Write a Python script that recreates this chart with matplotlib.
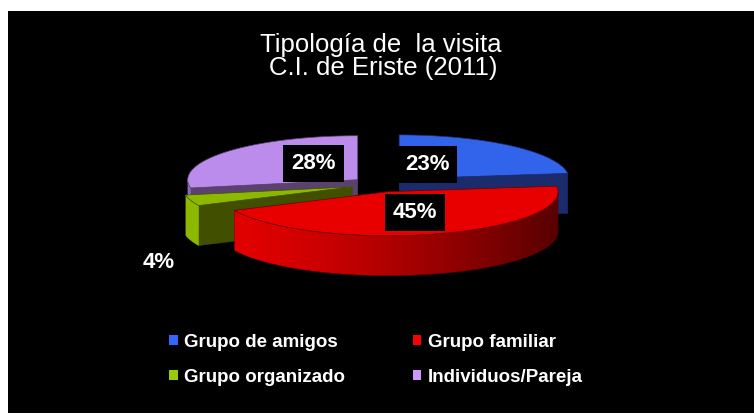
import numpy as np
import matplotlib
matplotlib.use("Agg")
import matplotlib.pyplot as plt
from matplotlib.patches import Polygon, Patch
from matplotlib.colors import to_rgb

# ---------------- data ----------------
categories = ["Grupo de amigos", "Grupo familiar", "Grupo organizado", "Individuos/Pareja"]
values = [23, 45, 4, 28]
pct_labels = ["23%", "45%", "4%", "28%"]
title_lines = ["Tipología de  la visita", "C.I. de Eriste (2011)"]

# ---------------- styles ----------------
top_colors = ["#3264EB", "#E80000", "#8CB900", "#BB8CEB"]
side_colors = ["#1B2C6C", "#6A0000", "#405000", "#5A416E"]
wall_light = ["#1B2C6C", "#E20000", "#8CB900", "#8E6AB8"]
wall_dark = ["#1B2C6C", "#580000", "#8CB900", "#8E6AB8"]
legend_colors = ["#3366FF", "#FF0000", "#99CC00", "#CC99FF"]
FONT = "Liberation Sans"

W, H = 754, 415
fig = plt.figure(figsize=(W / 100, H / 100), dpi=100, facecolor="white")
ax = fig.add_axes([8 / W, 2 / H, (W - 8) / W, (413 - 11) / H])
ax.set_facecolor("black")
ax.set_xlim(8, W)
ax.set_ylim(413, 11)
ax.set_xticks([])
ax.set_yticks([])
for s in ax.spines.values():
    s.set_visible(False)

# ---------------- 3D pie geometry ----------------
CX, CY, RX, RY, DEPTH, EXPLODE = 380, 184.5, 170, 44, 40, 0.17
total = float(sum(values))
bounds = np.concatenate([[0], np.cumsum(values)]) / total * 360.0


def arc(cx, cy, a0, a1):
    n = max(2, int(abs(a1 - a0) * 2) + 2)
    t = np.radians(np.linspace(a0, a1, n))
    return np.column_stack([cx + RX * np.sin(t), cy - RY * np.cos(t)])


slices = []
for i in range(len(values)):
    a0, a1 = bounds[i], bounds[i + 1]
    m = np.radians((a0 + a1) / 2)
    cx = CX + EXPLODE * RX * np.sin(m)
    cy = CY - EXPLODE * RY * np.cos(m)
    slices.append((i, a0, a1, cx, cy, -np.cos(m)))

zo = 2.0
for i, a0, a1, cx, cy, depth_key in sorted(slices, key=lambda s: s[5]):
    # radial cut faces
    for a, visible in ((a0, np.sin(np.radians(a0)) < -1e-6), (a1, np.sin(np.radians(a1)) > 1e-6)):
        if visible:
            px, py = arc(cx, cy, a, a)[0]
            poly = [(cx, cy), (px, py), (px, py + DEPTH), (cx, cy + DEPTH)]
            ax.add_patch(Polygon(poly, closed=True, facecolor=side_colors[i],
                                 edgecolor=side_colors[i], lw=0.3, zorder=zo))
    # outer wall (front half only) with horizontal gradient
    lo, hi = max(a0, 90.0), min(a1, 270.0)
    if hi > lo:
        pts = arc(cx, cy, lo, hi)
        wall = np.vstack([pts, pts[::-1] + [0, DEPTH]])
        xmin, xmax = pts[:, 0].min(), pts[:, 0].max()
        ymin, ymax = pts[:, 1].min(), pts[:, 1].max() + DEPTH
        f = (np.linspace(0, 1, 256) ** 1.35)[:, None]
        c1, c2 = np.array(to_rgb(wall_light[i])), np.array(to_rgb(wall_dark[i]))
        img = (c1 * (1 - f) + c2 * f)[None, :, :]
        clip = Polygon(wall, closed=True, facecolor="none", edgecolor="none",
                       transform=ax.transData)
        ax.add_patch(clip)
        im = ax.imshow(img, extent=(xmin, xmax, ymax, ymin), aspect="auto",
                       interpolation="bilinear", zorder=zo + 0.1)
        im.set_clip_path(clip)
        ax.add_patch(Polygon(wall, closed=True, facecolor="none",
                             edgecolor=wall_dark[i], lw=0.3, zorder=zo + 0.2))
    # top face
    top = np.vstack([[cx, cy], arc(cx, cy, a0, a1)])
    ax.add_patch(Polygon(top, closed=True, facecolor=top_colors[i],
                         edgecolor=side_colors[i], lw=0.5, zorder=zo + 0.3))
    zo += 1.0

ax.set_xlim(8, W)
ax.set_ylim(413, 11)

# ---------------- percentage labels ----------------
label_pos = [(427, 170), (415, 218), (159, 268), (313.5, 169)]
label_box = [True, True, False, True]
for txt, (x, y), box in zip(pct_labels, label_pos, label_box):
    kw = dict(bbox=dict(boxstyle="square,pad=0.35", fc="black", ec="none")) if box else {}
    ax.text(x, y, txt, color="white", fontsize=16, fontweight="bold", family=FONT,
            ha="center", va="baseline", zorder=20, **kw)

# ---------------- title ----------------
ax.text(381, 52, title_lines[0], color="white", fontsize=18.5, family=FONT,
        ha="center", va="baseline", zorder=20)
ax.text(383, 75, title_lines[1], color="white", fontsize=18.5, family=FONT,
        ha="center", va="baseline", zorder=20)

# ---------------- legend ----------------
order = [0, 2, 1, 3]
handles = [Patch(facecolor=legend_colors[k], edgecolor="none") for k in order]
labels = [categories[k] for k in order]
ax.legend(handles, labels, ncol=2, loc="center", bbox_to_anchor=(376, 360),
          bbox_transform=ax.transData, frameon=False,
          prop=dict(family=FONT, weight="bold", size=13.5), labelcolor="white",
          handlelength=0.45, handleheight=0.45, handletextpad=0.35,
          columnspacing=3.6, labelspacing=0.95, borderpad=0)

fig.savefig("out.png", dpi=100, facecolor="white")
